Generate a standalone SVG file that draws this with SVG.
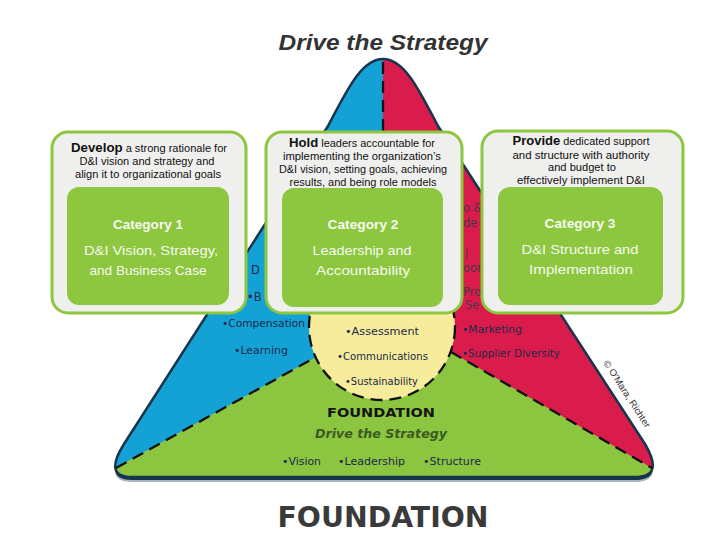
<svg xmlns="http://www.w3.org/2000/svg" width="720" height="540" viewBox="0 0 720 540">
<style>
.title{font-family:"Liberation Sans",Arial,sans-serif;font-weight:bold;font-style:italic;fill:#333;}
.desc{font-family:"Liberation Sans",Arial,sans-serif;font-size:10px;fill:#111;}
.desc .b{font-weight:bold;font-size:12px;}
.cat{font-family:"Liberation Sans",Arial,sans-serif;font-weight:bold;font-size:13.5px;fill:#f6faef;}
.catb{font-family:"Liberation Sans",Arial,sans-serif;font-size:13.5px;fill:#f6faef;}
.tri{font-family:"DejaVu Sans",Verdana,sans-serif;font-size:10.5px;fill:#1b2a48;}
.frag{font-family:"DejaVu Sans",Verdana,sans-serif;font-size:11.5px;}
.outer{fill:#efefed;stroke:#8dc63f;stroke-width:3;}
.inner{fill:#8dc63f;}
.dash{stroke:#111;stroke-width:2.3;fill:none;stroke-dasharray:12 7;}
</style>
<defs>
<path id="triPath" d="M 383 59 C 405 59 420 92 438 126 L 645 444 C 656 463 658 477 634 477 L 132 477 C 110 477 112 463 124 444 L 328 126 C 346 92 361 59 383 59 Z"/>
<clipPath id="triClip"><use href="#triPath"/></clipPath>
</defs>
<rect width="720" height="540" fill="#ffffff"/>
<text class="title" x="383" y="50" font-size="22" text-anchor="middle" textLength="209" lengthAdjust="spacingAndGlyphs">Drive the Strategy</text>
<g id="triangle">
<use href="#triPath" transform="translate(0,5)" fill="#a9b6c0"/>
<use href="#triPath" transform="translate(0,3)" fill="#17354d"/>
<use href="#triPath" fill="#14a2d6"/>
<g clip-path="url(#triClip)">
<rect x="383" y="0" width="337" height="540" fill="#da1c4c"/>
<path d="M 60 540 L 60 470 L 115 468 L 316 357 L 382 357 L 451 352 L 652 468 L 700 470 L 700 540 Z" fill="#8cc540"/>
<circle cx="382" cy="327" r="73" fill="#f7ec9c"/>
</g>
<use href="#triPath" fill="none" stroke="#17354d" stroke-width="2.5"/>
</g>
<g id="connectors">
<line class="dash" x1="383" y1="62" x2="383" y2="254" stroke-dasharray="16 8"/>
<line class="dash" x1="116" y1="468" x2="316" y2="357"/>
<line class="dash" x1="451" y1="352" x2="652" y2="468"/>
<circle class="dash" cx="382" cy="327" r="73" stroke-width="2.6" stroke-dasharray="14 7"/>
</g>
<g id="triangle-labels">
<text class="tri" x="222" y="327" textLength="83" lengthAdjust="spacingAndGlyphs">•Compensation</text>
<text class="tri" x="234" y="354" textLength="54" lengthAdjust="spacingAndGlyphs">•Learning</text>
<text class="tri" x="345" y="335" textLength="74" lengthAdjust="spacingAndGlyphs">•Assessment</text>
<text class="tri" x="337" y="360" textLength="91" lengthAdjust="spacingAndGlyphs">•Communications</text>
<text class="tri" x="345" y="385" textLength="73" lengthAdjust="spacingAndGlyphs">•Sustainability</text>
<text class="tri" x="462" y="333" textLength="60" lengthAdjust="spacingAndGlyphs">•Marketing</text>
<text class="tri" x="462" y="357" textLength="98" lengthAdjust="spacingAndGlyphs">•Supplier Diversity</text>
<text class="tri" x="381" y="417" text-anchor="middle" style="font-weight:bold;font-size:12.5px;fill:#141414" textLength="108" lengthAdjust="spacingAndGlyphs">FOUNDATION</text>
<text class="tri" x="381" y="438" text-anchor="middle" style="font-weight:bold;font-style:italic;font-size:11.5px;fill:#3b5a20" textLength="132" lengthAdjust="spacingAndGlyphs">Drive the Strategy</text>
<text class="tri" x="282" y="465" textLength="39" lengthAdjust="spacingAndGlyphs">•Vision</text>
<text class="tri" x="338" y="465" textLength="67" lengthAdjust="spacingAndGlyphs">•Leadership</text>
<text class="tri" x="423" y="465" textLength="58" lengthAdjust="spacingAndGlyphs">•Structure</text>
<text class="frag" x="251" y="274" fill="#1b2a48">D</text>
<text class="frag" x="247" y="301" fill="#1b2a48">•B</text>
<text class="frag" x="463" y="212" fill="#4a3848">o &amp;</text>
<text class="frag" x="463" y="227" fill="#4a3848">de</text>
<text class="frag" x="465" y="259" fill="#4a3848">l</text>
<text class="frag" x="463" y="272" fill="#4a3848">oor</text>
<text class="frag" x="463" y="296" fill="#4a3848">Pro</text>
<text class="frag" x="465" y="309" fill="#4a3848">Se</text>
<text x="603" y="363" transform="rotate(57 603 363)" font-family="'Liberation Sans',Arial,sans-serif" font-size="9.5" fill="#333" textLength="78" lengthAdjust="spacingAndGlyphs">© O'Mara, Richter</text>
</g>
<g id="card1">
<rect class="outer" x="52" y="132" width="194" height="181" rx="16"/>
<rect class="inner" x="67" y="187" width="162" height="118" rx="12"/>
<text class="desc" x="149" y="152" text-anchor="middle" textLength="156" lengthAdjust="spacingAndGlyphs"><tspan class="b">Develop</tspan> a strong rationale for</text>
<text class="desc" x="147" y="165" text-anchor="middle" textLength="135" lengthAdjust="spacingAndGlyphs">D&amp;I vision and strategy and</text>
<text class="desc" x="148" y="178" text-anchor="middle" textLength="146" lengthAdjust="spacingAndGlyphs">align it to organizational goals</text>
<text class="cat" x="148" y="229" text-anchor="middle" textLength="70" lengthAdjust="spacingAndGlyphs">Category 1</text>
<text class="catb" x="151" y="255" text-anchor="middle" textLength="134" lengthAdjust="spacingAndGlyphs">D&amp;I Vision, Strategy,</text>
<text class="catb" x="148" y="275" text-anchor="middle" textLength="117" lengthAdjust="spacingAndGlyphs">and Business Case</text>
</g>
<g id="card2">
<rect class="outer" x="266" y="132" width="196" height="181" rx="16"/>
<rect class="inner" x="282" y="188" width="161" height="119" rx="12"/>
<text class="desc" x="362" y="147" text-anchor="middle" textLength="146" lengthAdjust="spacingAndGlyphs"><tspan class="b">Hold</tspan> leaders accountable for</text>
<text class="desc" x="362" y="160" text-anchor="middle" textLength="158" lengthAdjust="spacingAndGlyphs">implementing the organization’s</text>
<text class="desc" x="363" y="173" text-anchor="middle" textLength="168" lengthAdjust="spacingAndGlyphs">D&amp;I vision, setting goals, achieving</text>
<text class="desc" x="363" y="186" text-anchor="middle" textLength="147" lengthAdjust="spacingAndGlyphs">results, and being role models</text>
<text class="cat" x="363" y="229" text-anchor="middle" textLength="71" lengthAdjust="spacingAndGlyphs">Category 2</text>
<text class="catb" x="362" y="255" text-anchor="middle" textLength="99" lengthAdjust="spacingAndGlyphs">Leadership and</text>
<text class="catb" x="363" y="275" text-anchor="middle" textLength="94" lengthAdjust="spacingAndGlyphs">Accountability</text>
</g>
<g id="card3">
<rect class="outer" x="482" y="131" width="201" height="182" rx="16"/>
<rect class="inner" x="498" y="187" width="165" height="118" rx="12"/>
<text class="desc" x="581" y="145" text-anchor="middle" textLength="137" lengthAdjust="spacingAndGlyphs"><tspan class="b">Provide</tspan> dedicated support</text>
<text class="desc" x="581" y="159" text-anchor="middle" textLength="137" lengthAdjust="spacingAndGlyphs">and structure with authority</text>
<text class="desc" x="582" y="171" text-anchor="middle" textLength="68" lengthAdjust="spacingAndGlyphs">and budget to</text>
<text class="desc" x="581" y="184" text-anchor="middle" textLength="128" lengthAdjust="spacingAndGlyphs">effectively implement D&amp;I</text>
<text class="cat" x="580" y="228" text-anchor="middle" textLength="71" lengthAdjust="spacingAndGlyphs">Category 3</text>
<text class="catb" x="580" y="254" text-anchor="middle" textLength="117" lengthAdjust="spacingAndGlyphs">D&amp;I Structure and</text>
<text class="catb" x="581" y="274" text-anchor="middle" textLength="104" lengthAdjust="spacingAndGlyphs">Implementation</text>
</g>
<text x="383" y="527" text-anchor="middle" font-family="'DejaVu Sans',Verdana,sans-serif" font-weight="bold" font-size="28" fill="#3a3a3a" textLength="211" lengthAdjust="spacingAndGlyphs">FOUNDATION</text>
</svg>
